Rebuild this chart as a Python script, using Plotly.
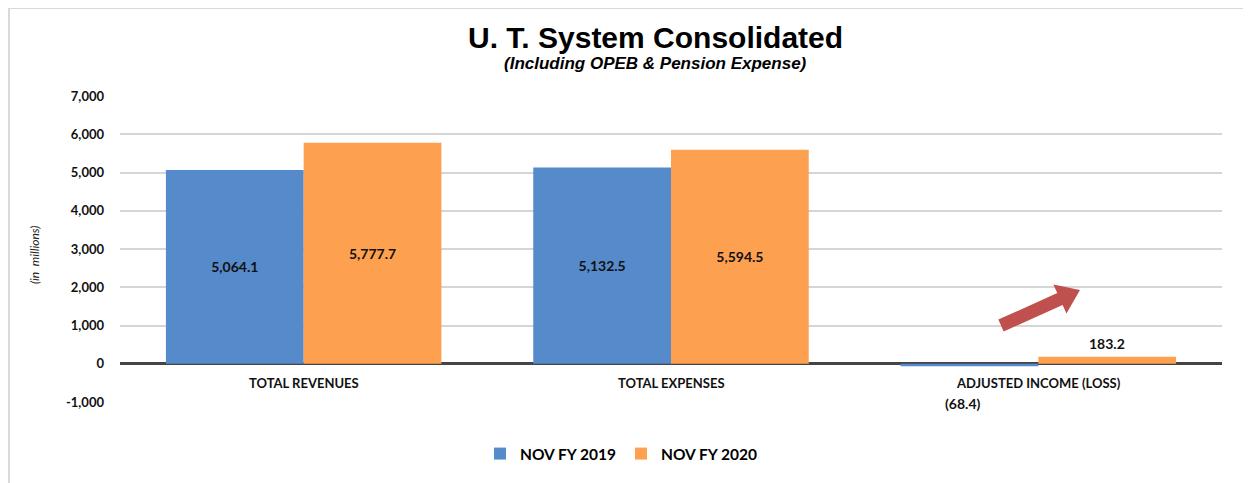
import math
import plotly.graph_objects as go

categories = ["TOTAL REVENUES", "TOTAL EXPENSES", "ADJUSTED INCOME (LOSS)"]
fy2019 = [5064.1, 5132.5, -68.4]
fy2020 = [5777.7, 5594.5, 183.2]
series_names = ["NOV FY 2019", "NOV FY 2020"]
tick_vals = [-1000, 0, 1000, 2000, 3000, 4000, 5000, 6000, 7000]
tick_text = ["-1,000", "0", "1,000", "2,000", "3,000", "4,000", "5,000", "6,000", "7,000"]

BLUE = "#558ACB"
ORANGE = "#FDA050"
LBL = "Lato, 'Open Sans', Arial, sans-serif"
ARIAL = "Arial, 'Liberation Sans', sans-serif"
OFF = 8  # page body margin around the plot div
W, H = 1251, 483
L, T = 120 - OFF, 96 - OFF
R, B = W - (1222 - OFF), H - (402 - OFF)
PW, PH = W - L - R, H - T - B


def fmt(v):
    s = "{:,.1f}".format(abs(v))
    return "(" + s + ")" if v < 0 else s


def inner_text(vals):
    # first two categories are labelled inside the bars, last one by annotations
    return [fmt(v) if i < 2 else "" for i, v in enumerate(vals)]


def px(x, y):
    # screen pixels -> paper coords
    x, y = x - OFF, y - OFF
    return (x - L) / PW, (H - B - y) / PH


fig = go.Figure()
fig.add_trace(go.Bar(x=categories, y=fy2019, name="<b>" + series_names[0] + "</b>", marker_color=BLUE,
                     text=inner_text(fy2019), textposition="inside", insidetextanchor="middle"))
fig.add_trace(go.Bar(x=categories, y=fy2020, name="<b>" + series_names[1] + "</b>", marker_color=ORANGE,
                     text=inner_text(fy2020), textposition="inside", insidetextanchor="middle"))
fig.update_traces(texttemplate="<b>%{text}</b>", marker_line_width=0,
                  textfont=dict(family=LBL, size=14, color="#111111"))

# category labels sit between 0 and -1,000
for c in categories:
    fig.add_annotation(x=c, y=-500, text="<b>" + c + "</b>", showarrow=False, yanchor="middle",
                       font=dict(family=LBL, size=13, color="#111111"))

# labels for the small bars
fig.add_annotation(x=categories[2], y=fy2020[2], text="<b>" + fmt(fy2020[2]) + "</b>",
                   xshift=69, yshift=3, yanchor="bottom", showarrow=False,
                   font=dict(family=LBL, size=14, color="#111111"))
fig.add_annotation(x=categories[2], y=-1000, text="<b>" + fmt(fy2019[2]) + "</b>",
                   xshift=-75, yshift=-1, showarrow=False, yanchor="middle",
                   font=dict(family=LBL, size=14, color="#111111"))

# titles
tx, ty = px(655, 37)
fig.add_annotation(xref="paper", yref="paper", x=tx, y=ty, xanchor="center", yanchor="middle",
                   text="<b>U. T. System Consolidated</b>",
                   showarrow=False, font=dict(family=ARIAL, size=30, color="black"))
tx, ty = px(655, 64)
fig.add_annotation(xref="paper", yref="paper", x=tx, y=ty, xanchor="center", yanchor="middle",
                   text="<b><i>(Including OPEB &amp; Pension Expense)</i></b>",
                   showarrow=False, font=dict(family=ARIAL, size=17, color="black"))
tx, ty = px(35, 255)
fig.add_annotation(xref="paper", yref="paper", x=tx, y=ty, xanchor="center", yanchor="middle",
                   text="<i>(in  millions)</i>", textangle=-90,
                   showarrow=False, font=dict(family=LBL, size=12, color="#222222"))

# red arrow drawn as a polygon
tail = (1001, 325.5)
tip = (1080, 290)
dx, dy = tip[0] - tail[0], tip[1] - tail[1]
ln = math.hypot(dx, dy)
ux, uy = dx / ln, dy / ln
nx, ny = -uy, ux
sw, hw, hl = 6.5, 16, 22
bx, by = tip[0] - ux * hl, tip[1] - uy * hl
pts = [(tail[0] + nx * sw, tail[1] + ny * sw), (bx + nx * sw, by + ny * sw), (bx + nx * hw, by + ny * hw),
       tip, (bx - nx * hw, by - ny * hw), (bx - nx * sw, by - ny * sw), (tail[0] - nx * sw, tail[1] - ny * sw)]
path = "M " + " L ".join("{:.5f},{:.5f}".format(*px(*p)) for p in pts) + " Z"
fig.add_shape(type="path", xref="paper", yref="paper", path=path,
              fillcolor="#C0504D", line=dict(color="#C0504D", width=0))

# page border
x0, y1 = px(9, 8)
fig.add_shape(type="rect", xref="paper", yref="paper", x0=x0, x1=1.2, y0=-0.6, y1=y1,
              line=dict(color="#D9D9D9", width=2), fillcolor="rgba(0,0,0,0)", layer="below")

fig.update_layout(
    width=W, height=H,
    margin=dict(l=L, r=R, t=T, b=B, autoexpand=False),
    paper_bgcolor="white", plot_bgcolor="white",
    barmode="group", bargap=0.25, bargroupgap=0,
    legend=dict(orientation="h", x=px(621, 0)[0], xanchor="center", y=px(0, 454)[1], yanchor="middle",
                font=dict(family=LBL, size=15.5, color="black"), traceorder="normal"),
    showlegend=True,
)
fig.update_xaxes(showline=False, ticks="", showticklabels=False, automargin=False)
fig.update_yaxes(range=[-1000, 7000], tickvals=tick_vals, ticktext=["<b>" + t + "</b>" for t in tick_text],
                 showgrid=True, gridcolor="#D5D5D5", gridwidth=1.5,
                 zeroline=True, zerolinecolor="#444444", zerolinewidth=2.5, automargin=False,
                 tickfont=dict(family=LBL, size=13, color="#111111"), ticklabelstandoff=15)

fig.write_html("out.html")
